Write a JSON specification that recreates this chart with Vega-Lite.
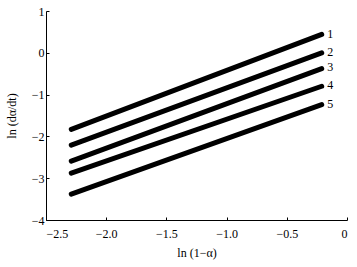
{
  "$schema": "https://vega.github.io/schema/vega-lite/v6.json",
  "width": 301,
  "height": 209,
  "autosize": {"type": "none"},
  "padding": {"left": 46, "top": 11, "right": 10, "bottom": 47},
  "background": "white",
  "config": {
    "view": {"stroke": null},
    "font": "Liberation Serif",
    "axis": {
      "grid": false,
      "domainColor": "black",
      "tickColor": "black",
      "tickSize": -3,
      "labelColor": "black",
      "labelFont": "Liberation Serif",
      "labelFontSize": 12,
      "titleFont": "Liberation Serif",
      "titleFontSize": 12,
      "titleFontWeight": "normal",
      "titleColor": "black"
    }
  },
  "datasets": {
    "lines": [
      {"series": "1", "x": -2.29, "y": -1.83},
      {"series": "1", "x": -0.21, "y": 0.44},
      {"series": "2", "x": -2.29, "y": -2.21},
      {"series": "2", "x": -0.21, "y": 0.0},
      {"series": "3", "x": -2.29, "y": -2.59},
      {"series": "3", "x": -0.21, "y": -0.38},
      {"series": "4", "x": -2.29, "y": -2.88},
      {"series": "4", "x": -0.21, "y": -0.8},
      {"series": "5", "x": -2.29, "y": -3.38},
      {"series": "5", "x": -0.21, "y": -1.24}
    ],
    "labels": [
      {"label": "1", "x": -0.14, "y": 0.46},
      {"label": "2", "x": -0.14, "y": 0.03},
      {"label": "3", "x": -0.14, "y": -0.35},
      {"label": "4", "x": -0.14, "y": -0.77},
      {"label": "5", "x": -0.14, "y": -1.22}
    ]
  },
  "layer": [
    {
      "data": {"name": "lines"},
      "mark": {"type": "line", "color": "black", "strokeWidth": 5, "strokeCap": "round"},
      "encoding": {
        "x": {
          "field": "x", "type": "quantitative",
          "scale": {"domain": [-2.5, 0], "nice": false},
          "axis": {"values": [-2.5, -2, -1.5, -1, -0.5, 0], "title": "ln (1−α)",
                   "labelExpr": "datum.value == 0 ? '0' : format(datum.value, '.1f')",
                   "labelPadding": 11, "titlePadding": 8}
        },
        "y": {
          "field": "y", "type": "quantitative",
          "scale": {"domain": [-4, 1], "nice": false},
          "axis": {"values": [-4, -3, -2, -1, 0, 1], "title": "ln (dα/dt)",
                   "labelPadding": 5, "titlePadding": 13}
        },
        "detail": {"field": "series"}
      }
    },
    {
      "data": {"name": "labels"},
      "mark": {"type": "text", "color": "black", "fontSize": 12, "font": "Liberation Serif", "align": "center", "baseline": "middle"},
      "encoding": {
        "x": {"field": "x", "type": "quantitative"},
        "y": {"field": "y", "type": "quantitative"},
        "text": {"field": "label"}
      }
    }
  ]
}
